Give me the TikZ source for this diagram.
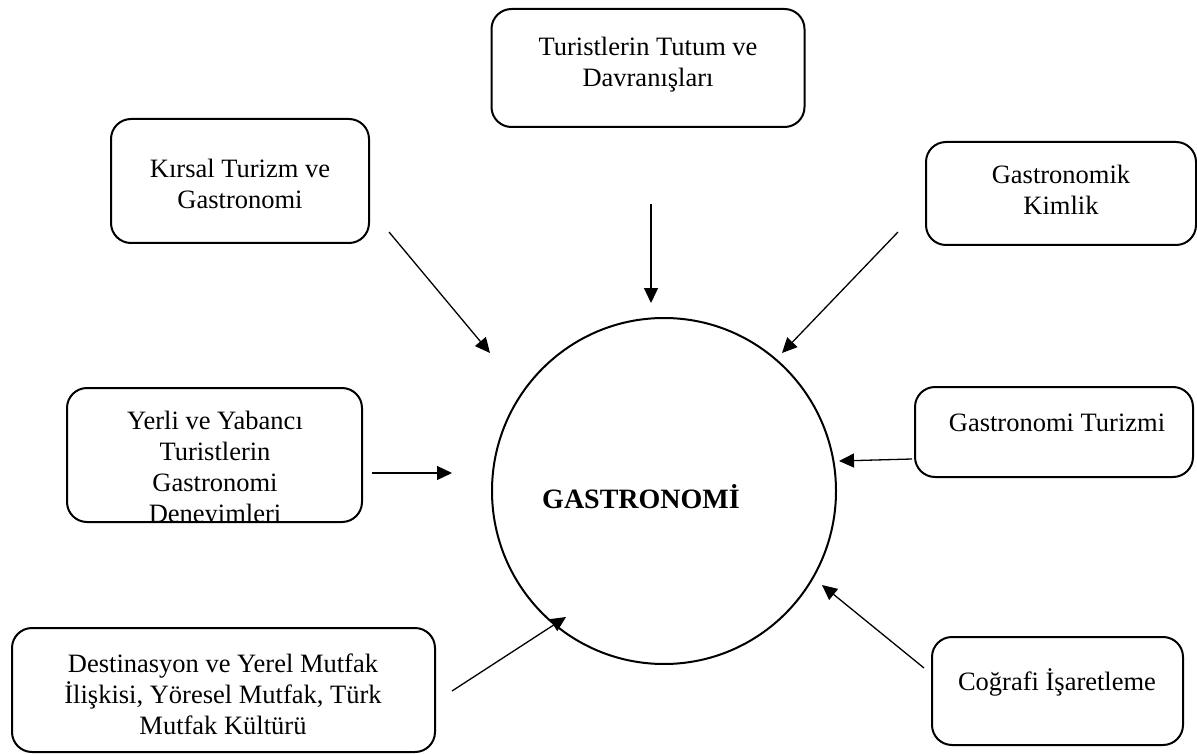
\documentclass[tikz,border=0pt]{standalone}
\usepackage{fontspec}
\setmainfont{Liberation Serif}
\usetikzlibrary{arrows.meta,shapes.geometric}
\begin{document}
\begin{tikzpicture}[x=1pt,y=-1pt,
  box/.style={draw, line width=2pt, rounded corners=20pt, inner sep=0pt},
  txt/.style={align=center, font=\fontsize{26.5}{31}\selectfont, inner sep=0pt},
  arr/.style={line width=1.3pt, -{Triangle[length=15pt,width=14pt]}}]
\useasboundingbox (0,0) rectangle (1197,754);
% boxes
\node[box, minimum width=313pt, minimum height=118pt] (b1) at (648,68) {};
\node[box, minimum width=258pt, minimum height=124pt] (b2) at (240,181) {};
\node[box, minimum width=270pt, minimum height=103pt] (b3) at (1061,193.5) {};
\node[box, minimum width=295pt, minimum height=134pt] (b4) at (214.5,455) {};
\node[box, minimum width=278pt, minimum height=90pt] (b5) at (1054,432) {};
\node[box, minimum width=423pt, minimum height=124pt] (b6) at (223.5,690) {};
\node[box, minimum width=251pt, minimum height=108pt] (b7) at (1057.5,691) {};
% texts
\node[txt] (t1) at (648,65) {Turistlerin Tutum ve\\Davranışları};
\node[txt] (t2) at (240,184) {Kırsal Turizm ve\\Gastronomi};
\node[txt] (t3) at (1061,190) {Gastronomik\\Kimlik};
\begin{scope}
\clip (69,390) rectangle (360,520);
\node[txt] (t4) at (215,470) {Yerli ve Yabancı\\Turistlerin\\Gastronomi\\Deneyimleri};
\end{scope}
\node[txt] (t5) at (1057,423) {Gastronomi Turizmi};
\node[txt] (t6) at (223,694) {Destinasyon ve Yerel Mutfak\\İlişkisi, Yöresel Mutfak, Türk\\Mutfak Kültürü};
\node[txt] (t7) at (1057,682) {Coğrafi İşaretleme};
% center
\node[draw, ellipse, line width=2pt, minimum width=344pt, minimum height=346pt, inner sep=0pt] (g) at (664,491) {};
\node[txt, font=\fontsize{28}{31}\selectfont\bfseries] (gt) at (641,497) {GASTRONOMİ};
% arrow ends
\coordinate (a1s) at (651,204); \coordinate (a1e) at (651,303);
\coordinate (a2s) at (389,232); \coordinate (a2e) at (490,353);
\coordinate (a3s) at (898,232); \coordinate (a3e) at (782,353);
\coordinate (a4s) at (372,473); \coordinate (a4e) at (452,473);
\coordinate (a5s) at (912,459); \coordinate (a5e) at (839,461);
\coordinate (a6s) at (452,691); \coordinate (a6e) at (566,617);
\coordinate (a7s) at (924,668); \coordinate (a7e) at (822,585);
\draw[arr] (a1s) -- (a1e);
\draw[arr] (a2s) -- (a2e);
\draw[arr] (a3s) -- (a3e);
\draw[arr] (a4s) -- (a4e);
\draw[arr] (a5s) -- (a5e);
\draw[arr] (a6s) -- (a6e);
\draw[arr] (a7s) -- (a7e);
\end{tikzpicture}
\end{document}
